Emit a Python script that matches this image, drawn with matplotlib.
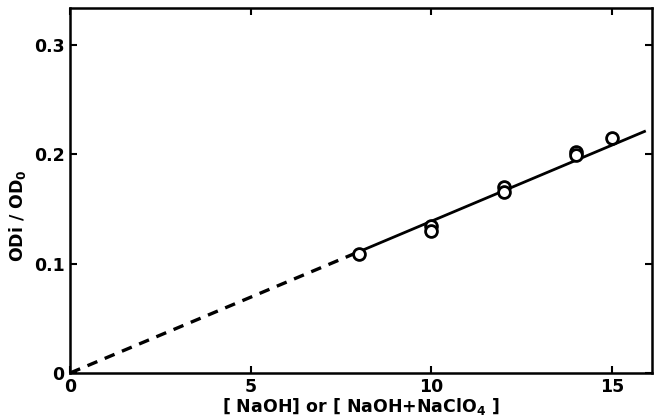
import matplotlib
matplotlib.use("Agg")
import matplotlib.pyplot as plt

# measured points (two readings at most concentrations)
conc = [8, 10, 10, 12, 12, 14, 14, 15]
od_ratio = [0.109, 0.134, 0.130, 0.170, 0.166, 0.202, 0.199, 0.215]

# fitted line: solid over measured range, dashed extrapolation to origin
fit_x = [8, 15.9]
fit_y = [0.111, 0.221]
extrap_x = [0, 8]
extrap_y = [0, 0.111]

x_ticks = [0, 5, 10, 15]
y_ticks = [0, 0.1, 0.2, 0.3]
y_ticklabels = ["0", "0.1", "0.2", "0.3"]

plt.rcParams["font.family"] = "DejaVu Sans"
plt.rcParams["font.weight"] = "bold"

fig = plt.figure(figsize=(6.63, 4.19), dpi=100)
ax = fig.add_axes([0.106, 0.110, 0.877, 0.871])

ax.plot(extrap_x, extrap_y, color="black", linewidth=2.4, linestyle=(0, (3.2, 2.4)))
ax.plot(fit_x, fit_y, color="black", linewidth=2.0)
ax.plot(conc, od_ratio, linestyle="none", marker="o", markersize=8.5,
        markerfacecolor="white", markeredgecolor="black", markeredgewidth=2.0)

ax.set_xlim(0, 16.1)
ax.set_ylim(0, 0.334)
ax.set_xticks(x_ticks)
ax.set_yticks(y_ticks)
ax.set_yticklabels(y_ticklabels)
ax.tick_params(direction="in", length=5, width=1.5, top=True, right=True,
               labelsize=12.5, pad=4)
for lab in ax.get_xticklabels() + ax.get_yticklabels():
    lab.set_fontweight("bold")
for s in ax.spines.values():
    s.set_linewidth(1.8)

ax.set_xlabel("[ NaOH] or [ NaOH+NaClO$_4$ ]", fontsize=12.5, fontweight="bold", labelpad=0)
ax.set_ylabel("ODi / OD$_0$", fontsize=12.5, fontweight="bold", labelpad=2)
ax.yaxis.set_label_coords(-0.072, 0.43)

fig.savefig("out.png", dpi=100)
